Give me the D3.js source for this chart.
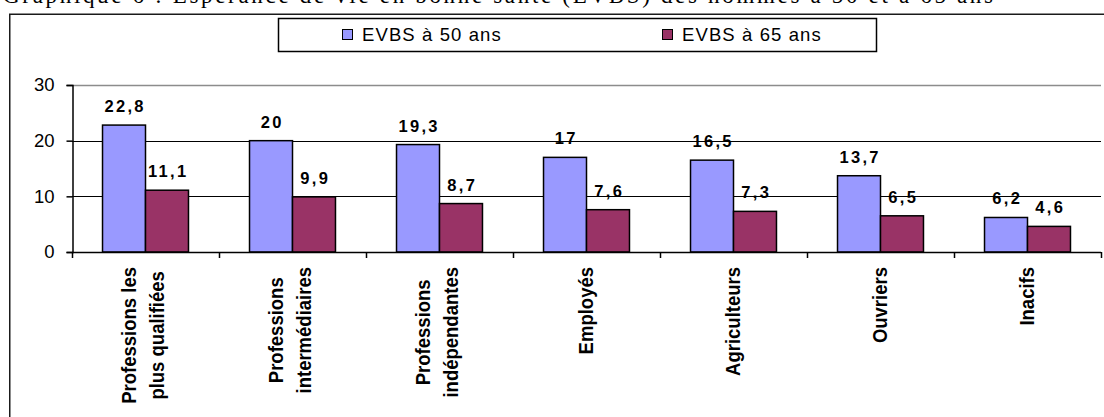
<!DOCTYPE html>
<html>
<head>
<meta charset="utf-8">
<script src="https://cdn.jsdelivr.net/npm/d3@7/dist/d3.min.js"></script>
<style>
  html, body { margin: 0; padding: 0; background: #fff; overflow: hidden; }
  svg { display: block; }
  text { font-family: "Liberation Sans", Arial, sans-serif; }
</style>
</head>
<body>
<svg id="chart" width="1104" height="417"></svg>
<script>
// Healthy life expectancy (EVBS) by occupation group
const categories = [
  ["Professions les", "plus qualifiées"],
  ["Professions", "intermédiaires"],
  ["Professions", "indépendantes"],
  ["Employés"],
  ["Agriculteurs"],
  ["Ouvriers"],
  ["Inacifs"]
];
const seriesNames = ["EVBS à 50 ans", "EVBS à 65 ans"];
const evbs50 = [22.8, 20, 19.3, 17, 16.5, 13.7, 6.2];
const evbs65 = [11.1, 9.9, 8.7, 7.6, 7.3, 6.5, 4.6];
const yTicks = [0, 10, 20, 30];
const seriesColors = ["#9999FF", "#993366"];
const title = "Graphique 6 : Espérance de vie en bonne santé (EVBS) des hommes à 50 et à 65 ans";

const svg = d3.select("#chart");

// Title (runs off the top edge of the frame)
svg.append("text")
  .attr("x", 3).attr("y", 3)
  .attr("textLength", 990).attr("lengthAdjust", "spacing")
  .style("font-family", "'Liberation Serif', 'Times New Roman', serif")
  .style("font-size", "23px")
  .text(title);

// Outer chart frame
svg.append("rect")
  .attr("x", 9.75).attr("y", 14.25)
  .attr("width", 1300).attr("height", 600)
  .attr("fill", "none").attr("stroke", "#1a1a1a").attr("stroke-width", 1.5);

// Legend
const legend = svg.append("g");
legend.append("rect")
  .attr("x", 278.5).attr("y", 18.5).attr("width", 598).attr("height", 33)
  .attr("fill", "#fff").attr("stroke", "#000").attr("stroke-width", 1.5);
const legendX = [342, 662];
seriesNames.forEach((name, i) => {
  legend.append("rect")
    .attr("x", legendX[i] + 0.5).attr("y", 29.5).attr("width", 10).attr("height", 10)
    .attr("fill", seriesColors[i]).attr("stroke", "#000").attr("stroke-width", 1);
  legend.append("text")
    .attr("x", legendX[i] + 20).attr("y", 41)
    .style("font-size", "18.5px").style("letter-spacing", "1.1px")
    .text(name);
});

// Scales
const keys = categories.map(c => c.join(" "));
const x = d3.scaleBand().domain(keys).range([72, 1101]).padding(0);
const x1 = d3.scaleBand().domain(seriesNames).range([0, x.bandwidth()])
  .paddingInner(0).paddingOuter(0.71);
const y = d3.scaleLinear().domain([0, 30]).range([252, 85]);

// Gridlines
svg.append("g").selectAll("line")
  .data(yTicks.filter(t => t > 0))
  .join("line")
  .attr("x1", 72).attr("x2", 1101)
  .attr("y1", d => Math.round(y(d)) + 0.5).attr("y2", d => Math.round(y(d)) + 0.5)
  .attr("stroke", d => d === 30 ? "#8c8c8c" : "#000")
  .attr("stroke-width", d => d === 30 ? 1.5 : 1.2);

// Bars
const data = keys.map((k, i) => ({ key: k, values: [evbs50[i], evbs65[i]] }));
const groups = svg.append("g").selectAll("g")
  .data(data).join("g")
  .attr("transform", d => `translate(${x(d.key)},0)`);

groups.selectAll("rect")
  .data(d => d.values.map((v, j) => ({ name: seriesNames[j], v, j })))
  .join("rect")
  .attr("x", d => x1(d.name))
  .attr("y", d => y(d.v))
  .attr("width", x1.bandwidth())
  .attr("height", d => y(0) - y(d.v))
  .attr("fill", d => seriesColors[d.j])
  .attr("stroke", "#000").attr("stroke-width", 1.5);

// Value labels
const fmt = v => String(v).replace(".", ",");
groups.selectAll("text.val")
  .data(d => d.values.map((v, j) => ({ name: seriesNames[j], v })))
  .join("text")
  .attr("class", "val")
  .attr("x", d => x1(d.name) + x1.bandwidth() / 2 + 1.2)
  .attr("y", d => y(d.v) - 13)
  .attr("text-anchor", "middle")
  .style("font-size", "16.5px").style("font-weight", "bold")
  .style("letter-spacing", "2.3px")
  .text(d => fmt(d.v));

// Y axis
const yAxis = d3.axisLeft(y).tickValues(yTicks).tickSize(6).tickPadding(12)
  .tickFormat(d3.format("d"));
const gy = svg.append("g").attr("transform", "translate(72.5,0)").call(yAxis);
gy.select(".domain").attr("stroke", "#000").attr("stroke-width", 1.5);
gy.selectAll(".tick line").attr("stroke", "#000").attr("stroke-width", 1.5);
gy.selectAll(".tick text")
  .style("font-size", "18.5px").attr("fill", "#000")
  .style("font-family", "'Liberation Sans', Arial, sans-serif");

// X axis line with boundary ticks
const boundaries = keys.map(k => x(k)).concat([x.range()[1]]);
svg.append("line")
  .attr("x1", 72).attr("x2", 1101).attr("y1", 252.5).attr("y2", 252.5)
  .attr("stroke", "#000").attr("stroke-width", 1.5);
svg.append("g").selectAll("line")
  .data(boundaries).join("line")
  .attr("x1", d => Math.round(d) + 0.5).attr("x2", d => Math.round(d) + 0.5)
  .attr("y1", 252).attr("y2", 258)
  .attr("stroke", "#000").attr("stroke-width", 1.5);

// Category labels, rotated and wrapped
const lineStep = 28;
const labelTop = 267;
const catG = svg.append("g");
categories.forEach((lines, i) => {
  const cx = x(keys[i]) + x.bandwidth() / 2;
  const n = lines.length;
  const g = catG.append("g");
  const texts = lines.map((ln, j) => g.append("text")
    .style("font-size", "18.5px").style("font-weight", "bold")
    .attr("text-anchor", "middle")
    .text(ln));
  const maxLen = d3.max(texts, t => t.node().getComputedTextLength());
  const cy = labelTop + maxLen / 2;
  texts.forEach((t, j) => {
    const bx = cx + 6.5 + (j - (n - 1) / 2) * lineStep - (n > 1 ? 2.5 : 0);
    // stretch glyph height slightly across the rotated baseline
    t.attr("transform", `translate(${bx},${cy}) rotate(-90) scale(1,1.08)`);
  });
});
</script>
</body>
</html>
